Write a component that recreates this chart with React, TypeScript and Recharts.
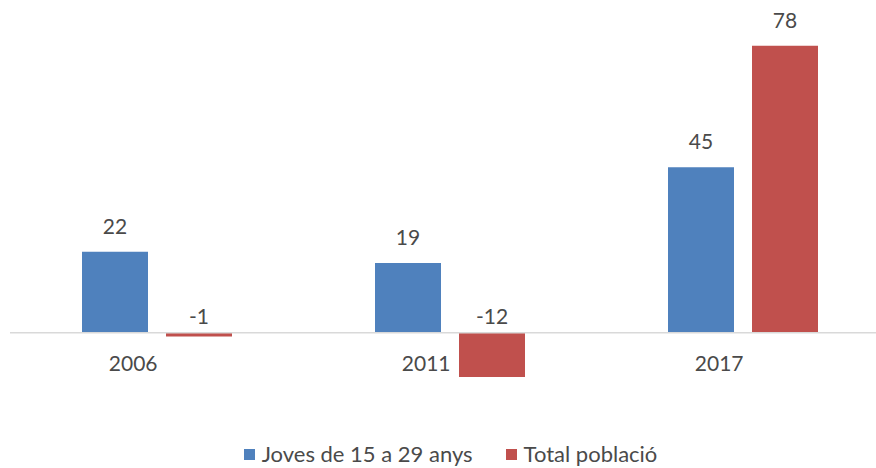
import { BarChart, Bar, XAxis, YAxis, ReferenceLine, Legend, LabelList } from 'recharts';

const years = ['2006', '2011', '2017'];
const joves = [22, 19, 45];
const total = [-1, -12, 78];

const seriesNames = ['Joves de 15 a 29 anys', 'Total població'];
const COLORS = ['#4F81BD', '#C0504D'];
const FONT = 'Lato, "Liberation Sans", sans-serif';
const TEXT = '#4a4a4a';

const chartData = years.map((year, i) => ({ year, joves: joves[i], total: total[i] }));

function ValueLabel(props: any) {
  const { x, y, width, height, value } = props;
  const cx = x + width / 2;
  if (value >= 0) {
    return (
      <text x={cx} y={y - 18} textAnchor="middle" fill={TEXT} fontSize={21} fontFamily={FONT}>
        {value}
      </text>
    );
  }
  const zeroY = Math.min(y, y + height);
  return (
    <text x={cx} y={zeroY - 9} textAnchor="middle" fill={TEXT} fontSize={21} fontFamily={FONT}>
      {value}
    </text>
  );
}

// category labels sit just under the zero line, ending at the category centre
function YearTick(props: any) {
  const { x, y, payload } = props;
  return (
    <text x={x + 1} y={y} dy={-25} textAnchor="end" fill={TEXT} fontSize={21} fontFamily={FONT}>
      {payload.value}
    </text>
  );
}

function LegendBox() {
  return (
    <div style={{ display: 'flex', justifyContent: 'center', height: 28, lineHeight: '28px', fontFamily: FONT, fontSize: 22, color: TEXT, paddingLeft: 2, paddingTop: 6 }}>
      {seriesNames.map((name, i) => (
        <span key={name} style={{ display: 'flex', alignItems: 'center', marginRight: i === 0 ? 33 : 0 }}>
          <span style={{ display: 'inline-block', width: 11, height: 11, background: COLORS[i], marginRight: 7 }} />
          {name}
        </span>
      ))}
    </div>
  );
}

export default function App() {
  return (
    <div style={{ position: 'absolute', left: 0, top: 0, width: 876, height: 468, overflow: 'hidden', background: '#fff' }}>
      <BarChart
        width={900}
        height={468}
        data={chartData}
        margin={{ top: 20, right: 11, left: 10, bottom: 0 }}
        barSize={66}
        barGap={18}
      >
        <XAxis dataKey="year" axisLine={false} tickLine={false} height={46} tick={<YearTick />} interval={0} />
        <YAxis hide domain={[-15, 85]} allowDataOverflow />
        <ReferenceLine y={0} stroke="#D9D9D9" strokeWidth={1.5} />
        <Legend verticalAlign="bottom" content={<LegendBox />} />
        <Bar dataKey="joves" name={seriesNames[0]} fill={COLORS[0]} isAnimationActive={false}>
          <LabelList dataKey="joves" content={<ValueLabel />} />
        </Bar>
        <Bar dataKey="total" name={seriesNames[1]} fill={COLORS[1]} isAnimationActive={false}>
          <LabelList dataKey="total" content={<ValueLabel />} />
        </Bar>
      </BarChart>
    </div>
  );
}
